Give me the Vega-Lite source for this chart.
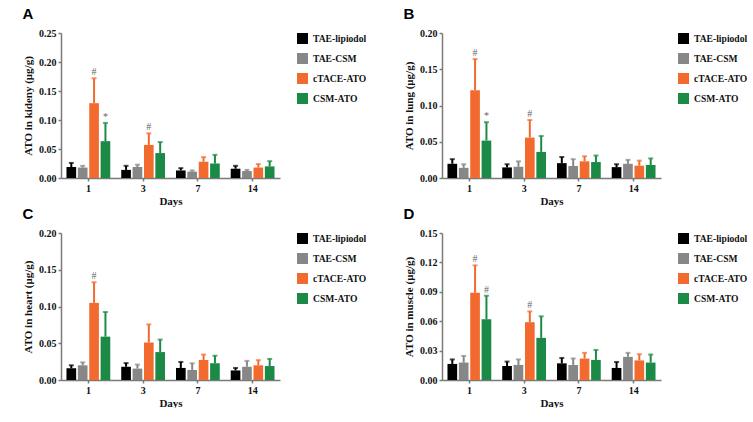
{
  "$schema": "https://vega.github.io/schema/vega-lite/v6.json",
  "background": "white",
  "padding": {"left": 22, "top": 7, "right": 0, "bottom": 0},
  "datasets": {
    "d": [
      {"panel":"A","day":"1","group":"TAE-lipiodol","mean":0.019,"upper":0.026,"sig":""},
      {"panel":"A","day":"1","group":"TAE-CSM","mean":0.018,"upper":0.021,"sig":""},
      {"panel":"A","day":"1","group":"cTACE-ATO","mean":0.129,"upper":0.172,"sig":"#"},
      {"panel":"A","day":"1","group":"CSM-ATO","mean":0.0635,"upper":0.095,"sig":"*"},
      {"panel":"A","day":"3","group":"TAE-lipiodol","mean":0.014,"upper":0.021,"sig":""},
      {"panel":"A","day":"3","group":"TAE-CSM","mean":0.019,"upper":0.023,"sig":""},
      {"panel":"A","day":"3","group":"cTACE-ATO","mean":0.057,"upper":0.077,"sig":"#"},
      {"panel":"A","day":"3","group":"CSM-ATO","mean":0.043,"upper":0.062,"sig":""},
      {"panel":"A","day":"7","group":"TAE-lipiodol","mean":0.013,"upper":0.017,"sig":""},
      {"panel":"A","day":"7","group":"TAE-CSM","mean":0.011,"upper":0.013,"sig":""},
      {"panel":"A","day":"7","group":"cTACE-ATO","mean":0.028,"upper":0.036,"sig":""},
      {"panel":"A","day":"7","group":"CSM-ATO","mean":0.025,"upper":0.040,"sig":""},
      {"panel":"A","day":"14","group":"TAE-lipiodol","mean":0.016,"upper":0.021,"sig":""},
      {"panel":"A","day":"14","group":"TAE-CSM","mean":0.012,"upper":0.014,"sig":""},
      {"panel":"A","day":"14","group":"cTACE-ATO","mean":0.018,"upper":0.024,"sig":""},
      {"panel":"A","day":"14","group":"CSM-ATO","mean":0.020,"upper":0.029,"sig":""},

      {"panel":"B","day":"1","group":"TAE-lipiodol","mean":0.0196,"upper":0.026,"sig":""},
      {"panel":"B","day":"1","group":"TAE-CSM","mean":0.014,"upper":0.019,"sig":""},
      {"panel":"B","day":"1","group":"cTACE-ATO","mean":0.121,"upper":0.164,"sig":"#"},
      {"panel":"B","day":"1","group":"CSM-ATO","mean":0.0516,"upper":0.077,"sig":"*"},
      {"panel":"B","day":"3","group":"TAE-lipiodol","mean":0.0146,"upper":0.019,"sig":""},
      {"panel":"B","day":"3","group":"TAE-CSM","mean":0.0155,"upper":0.023,"sig":""},
      {"panel":"B","day":"3","group":"cTACE-ATO","mean":0.0557,"upper":0.080,"sig":"#"},
      {"panel":"B","day":"3","group":"CSM-ATO","mean":0.036,"upper":0.058,"sig":""},
      {"panel":"B","day":"7","group":"TAE-lipiodol","mean":0.0205,"upper":0.029,"sig":""},
      {"panel":"B","day":"7","group":"TAE-CSM","mean":0.0164,"upper":0.026,"sig":""},
      {"panel":"B","day":"7","group":"cTACE-ATO","mean":0.023,"upper":0.030,"sig":""},
      {"panel":"B","day":"7","group":"CSM-ATO","mean":0.022,"upper":0.031,"sig":""},
      {"panel":"B","day":"14","group":"TAE-lipiodol","mean":0.015,"upper":0.019,"sig":""},
      {"panel":"B","day":"14","group":"TAE-CSM","mean":0.0196,"upper":0.025,"sig":""},
      {"panel":"B","day":"14","group":"cTACE-ATO","mean":0.017,"upper":0.024,"sig":""},
      {"panel":"B","day":"14","group":"CSM-ATO","mean":0.018,"upper":0.027,"sig":""},

      {"panel":"C","day":"1","group":"TAE-lipiodol","mean":0.016,"upper":0.020,"sig":""},
      {"panel":"C","day":"1","group":"TAE-CSM","mean":0.020,"upper":0.024,"sig":""},
      {"panel":"C","day":"1","group":"cTACE-ATO","mean":0.105,"upper":0.133,"sig":"#"},
      {"panel":"C","day":"1","group":"CSM-ATO","mean":0.059,"upper":0.0925,"sig":""},
      {"panel":"C","day":"3","group":"TAE-lipiodol","mean":0.018,"upper":0.023,"sig":""},
      {"panel":"C","day":"3","group":"TAE-CSM","mean":0.0155,"upper":0.021,"sig":""},
      {"panel":"C","day":"3","group":"cTACE-ATO","mean":0.051,"upper":0.0756,"sig":""},
      {"panel":"C","day":"3","group":"CSM-ATO","mean":0.038,"upper":0.055,"sig":""},
      {"panel":"C","day":"7","group":"TAE-lipiodol","mean":0.0164,"upper":0.0246,"sig":""},
      {"panel":"C","day":"7","group":"TAE-CSM","mean":0.0137,"upper":0.0228,"sig":""},
      {"panel":"C","day":"7","group":"cTACE-ATO","mean":0.0273,"upper":0.0346,"sig":""},
      {"panel":"C","day":"7","group":"CSM-ATO","mean":0.0228,"upper":0.033,"sig":""},
      {"panel":"C","day":"14","group":"TAE-lipiodol","mean":0.013,"upper":0.0164,"sig":""},
      {"panel":"C","day":"14","group":"TAE-CSM","mean":0.018,"upper":0.026,"sig":""},
      {"panel":"C","day":"14","group":"cTACE-ATO","mean":0.020,"upper":0.027,"sig":""},
      {"panel":"C","day":"14","group":"CSM-ATO","mean":0.019,"upper":0.0287,"sig":""},

      {"panel":"D","day":"1","group":"TAE-lipiodol","mean":0.0164,"upper":0.021,"sig":""},
      {"panel":"D","day":"1","group":"TAE-CSM","mean":0.0178,"upper":0.0246,"sig":""},
      {"panel":"D","day":"1","group":"cTACE-ATO","mean":0.089,"upper":0.117,"sig":"#"},
      {"panel":"D","day":"1","group":"CSM-ATO","mean":0.062,"upper":0.086,"sig":"#"},
      {"panel":"D","day":"3","group":"TAE-lipiodol","mean":0.0143,"upper":0.0188,"sig":""},
      {"panel":"D","day":"3","group":"TAE-CSM","mean":0.0154,"upper":0.021,"sig":""},
      {"panel":"D","day":"3","group":"cTACE-ATO","mean":0.059,"upper":0.070,"sig":"#"},
      {"panel":"D","day":"3","group":"CSM-ATO","mean":0.043,"upper":0.065,"sig":""},
      {"panel":"D","day":"7","group":"TAE-lipiodol","mean":0.017,"upper":0.0225,"sig":""},
      {"panel":"D","day":"7","group":"TAE-CSM","mean":0.0154,"upper":0.022,"sig":""},
      {"panel":"D","day":"7","group":"cTACE-ATO","mean":0.0219,"upper":0.0277,"sig":""},
      {"panel":"D","day":"7","group":"CSM-ATO","mean":0.0205,"upper":0.0307,"sig":""},
      {"panel":"D","day":"14","group":"TAE-lipiodol","mean":0.0123,"upper":0.0184,"sig":""},
      {"panel":"D","day":"14","group":"TAE-CSM","mean":0.0236,"upper":0.0277,"sig":""},
      {"panel":"D","day":"14","group":"cTACE-ATO","mean":0.020,"upper":0.0263,"sig":""},
      {"panel":"D","day":"14","group":"CSM-ATO","mean":0.0178,"upper":0.026,"sig":""}
    ]
  },
  "data": {"name": "d"},
  "config": {
    "view": {"stroke": null},
    "axis": {
      "grid": false,
      "domainColor": "#7a7a7a",
      "domainWidth": 1.5,
      "tickColor": "#7a7a7a",
      "tickWidth": 1.5,
      "tickSize": 3,
      "labelFont": "Liberation Serif",
      "labelFontWeight": "bold",
      "labelFontSize": 10,
      "labelColor": "#111",
      "labelOverlap": false,
      "titleFont": "Liberation Serif",
      "titleFontWeight": "bold",
      "titleColor": "#111",
      "titleFontSize": 11
    },
    "axisX": {"labelAngle": 0, "labelPadding": 2, "titlePadding": 2},
    "axisY": {"labelPadding": 2, "titlePadding": 5},
    "legend": {
      "title": null,
      "symbolType": "square",
      "symbolSize": 121,
      "symbolStrokeWidth": 0,
      "symbolOpacity": 1,
      "labelFont": "Liberation Serif",
      "labelFontWeight": "bold",
      "labelFontSize": 9.6,
      "labelColor": "#111",
      "rowPadding": 9,
      "offset": 17,
      "padding": 0,
      "labelOffset": 5
    },
    "title": {"font": "Liberation Sans", "fontSize": 15, "fontWeight": "bold", "anchor": "start", "frame": "bounds", "offset": 6, "color": "#000"}
  },
  "resolve": {"scale": {"color": "independent"}, "legend": {"color": "independent"}},
  "spacing": 1,
  "vconcat": [
    {
      "resolve": {"scale": {"color": "independent"}, "legend": {"color": "independent"}},
      "spacing": 36,
      "hconcat": [
        {
          "title": "A",
          "width": 219, "height": 145,
          "transform": [{"filter": "datum.panel === 'A'"}],
          "encoding": {
            "x": {"field": "day", "type": "ordinal", "sort": ["1","3","7","14"], "scale": {"paddingInner": 0.2, "paddingOuter": 0.1}, "title": "Days"},
            "xOffset": {"field": "group", "type": "nominal", "scale": {"domain": ["TAE-lipiodol","TAE-CSM","cTACE-ATO","CSM-ATO"], "paddingInner": 0.15}},
            "color": {"field": "group", "type": "nominal", "scale": {"domain": ["TAE-lipiodol","TAE-CSM","cTACE-ATO","CSM-ATO"], "range": ["#000000","#878787","#f26a2e","#1b8a47"]}}
          },
          "layer": [
            {"mark": {"type": "rule", "strokeWidth": 2}, "encoding": {"y": {"field": "mean", "type": "quantitative", "title": "ATO in kideny (μg/g)", "scale": {"domain": [0, 0.25], "nice": false}, "axis": {"values": [0,0.05,0.1,0.15,0.2,0.25], "format": ".2f"}}, "y2": {"field": "upper"}}},
            {"mark": {"type": "tick", "thickness": 2, "size": 5}, "encoding": {"y": {"field": "upper", "type": "quantitative", "title": "ATO in kideny (μg/g)", "axis": {"values": [0,0.05,0.1,0.15,0.2,0.25], "format": ".2f"}}}},
            {"mark": {"type": "bar"}, "encoding": {"y": {"field": "mean", "type": "quantitative", "title": "ATO in kideny (μg/g)", "axis": {"values": [0,0.05,0.1,0.15,0.2,0.25], "format": ".2f"}}}},
            {"mark": {"type": "text", "dy": -6, "font": "Liberation Serif", "fontSize": 10}, "encoding": {"y": {"field": "upper", "type": "quantitative", "title": "ATO in kideny (μg/g)", "axis": {"values": [0,0.05,0.1,0.15,0.2,0.25], "format": ".2f"}}, "text": {"field": "sig"}, "color": {"value": "#666"}}}
          ]
        },
        {
          "title": "B",
          "width": 219, "height": 145,
          "transform": [{"filter": "datum.panel === 'B'"}],
          "encoding": {
            "x": {"field": "day", "type": "ordinal", "sort": ["1","3","7","14"], "scale": {"paddingInner": 0.2, "paddingOuter": 0.1}, "title": "Days"},
            "xOffset": {"field": "group", "type": "nominal", "scale": {"domain": ["TAE-lipiodol","TAE-CSM","cTACE-ATO","CSM-ATO"], "paddingInner": 0.15}},
            "color": {"field": "group", "type": "nominal", "scale": {"domain": ["TAE-lipiodol","TAE-CSM","cTACE-ATO","CSM-ATO"], "range": ["#000000","#878787","#f26a2e","#1b8a47"]}}
          },
          "layer": [
            {"mark": {"type": "rule", "strokeWidth": 2}, "encoding": {"y": {"field": "mean", "type": "quantitative", "title": "ATO in lung (μg/g)", "scale": {"domain": [0, 0.2], "nice": false}, "axis": {"values": [0,0.05,0.1,0.15,0.2], "format": ".2f"}}, "y2": {"field": "upper"}}},
            {"mark": {"type": "tick", "thickness": 2, "size": 5}, "encoding": {"y": {"field": "upper", "type": "quantitative", "title": "ATO in lung (μg/g)", "axis": {"values": [0,0.05,0.1,0.15,0.2], "format": ".2f"}}}},
            {"mark": {"type": "bar"}, "encoding": {"y": {"field": "mean", "type": "quantitative", "title": "ATO in lung (μg/g)", "axis": {"values": [0,0.05,0.1,0.15,0.2], "format": ".2f"}}}},
            {"mark": {"type": "text", "dy": -6, "font": "Liberation Serif", "fontSize": 10}, "encoding": {"y": {"field": "upper", "type": "quantitative", "title": "ATO in lung (μg/g)", "axis": {"values": [0,0.05,0.1,0.15,0.2], "format": ".2f"}}, "text": {"field": "sig"}, "color": {"value": "#666"}}}
          ]
        }
      ]
    },
    {
      "resolve": {"scale": {"color": "independent"}, "legend": {"color": "independent"}},
      "spacing": 36,
      "hconcat": [
        {
          "title": "C",
          "width": 219, "height": 147,
          "transform": [{"filter": "datum.panel === 'C'"}],
          "encoding": {
            "x": {"field": "day", "type": "ordinal", "sort": ["1","3","7","14"], "scale": {"paddingInner": 0.2, "paddingOuter": 0.1}, "title": "Days"},
            "xOffset": {"field": "group", "type": "nominal", "scale": {"domain": ["TAE-lipiodol","TAE-CSM","cTACE-ATO","CSM-ATO"], "paddingInner": 0.15}},
            "color": {"field": "group", "type": "nominal", "scale": {"domain": ["TAE-lipiodol","TAE-CSM","cTACE-ATO","CSM-ATO"], "range": ["#000000","#878787","#f26a2e","#1b8a47"]}}
          },
          "layer": [
            {"mark": {"type": "rule", "strokeWidth": 2}, "encoding": {"y": {"field": "mean", "type": "quantitative", "title": "ATO in heart (μg/g)", "scale": {"domain": [0, 0.2], "nice": false}, "axis": {"values": [0,0.05,0.1,0.15,0.2], "format": ".2f"}}, "y2": {"field": "upper"}}},
            {"mark": {"type": "tick", "thickness": 2, "size": 5}, "encoding": {"y": {"field": "upper", "type": "quantitative", "title": "ATO in heart (μg/g)", "axis": {"values": [0,0.05,0.1,0.15,0.2], "format": ".2f"}}}},
            {"mark": {"type": "bar"}, "encoding": {"y": {"field": "mean", "type": "quantitative", "title": "ATO in heart (μg/g)", "axis": {"values": [0,0.05,0.1,0.15,0.2], "format": ".2f"}}}},
            {"mark": {"type": "text", "dy": -6, "font": "Liberation Serif", "fontSize": 10}, "encoding": {"y": {"field": "upper", "type": "quantitative", "title": "ATO in heart (μg/g)", "axis": {"values": [0,0.05,0.1,0.15,0.2], "format": ".2f"}}, "text": {"field": "sig"}, "color": {"value": "#666"}}}
          ]
        },
        {
          "title": "D",
          "width": 219, "height": 147,
          "transform": [{"filter": "datum.panel === 'D'"}],
          "encoding": {
            "x": {"field": "day", "type": "ordinal", "sort": ["1","3","7","14"], "scale": {"paddingInner": 0.2, "paddingOuter": 0.1}, "title": "Days"},
            "xOffset": {"field": "group", "type": "nominal", "scale": {"domain": ["TAE-lipiodol","TAE-CSM","cTACE-ATO","CSM-ATO"], "paddingInner": 0.15}},
            "color": {"field": "group", "type": "nominal", "scale": {"domain": ["TAE-lipiodol","TAE-CSM","cTACE-ATO","CSM-ATO"], "range": ["#000000","#878787","#f26a2e","#1b8a47"]}}
          },
          "layer": [
            {"mark": {"type": "rule", "strokeWidth": 2}, "encoding": {"y": {"field": "mean", "type": "quantitative", "title": "ATO in muscle (μg/g)", "scale": {"domain": [0, 0.15], "nice": false}, "axis": {"values": [0,0.03,0.06,0.09,0.12,0.15], "format": ".2f"}}, "y2": {"field": "upper"}}},
            {"mark": {"type": "tick", "thickness": 2, "size": 5}, "encoding": {"y": {"field": "upper", "type": "quantitative", "title": "ATO in muscle (μg/g)", "axis": {"values": [0,0.03,0.06,0.09,0.12,0.15], "format": ".2f"}}}},
            {"mark": {"type": "bar"}, "encoding": {"y": {"field": "mean", "type": "quantitative", "title": "ATO in muscle (μg/g)", "axis": {"values": [0,0.03,0.06,0.09,0.12,0.15], "format": ".2f"}}}},
            {"mark": {"type": "text", "dy": -6, "font": "Liberation Serif", "fontSize": 10}, "encoding": {"y": {"field": "upper", "type": "quantitative", "title": "ATO in muscle (μg/g)", "axis": {"values": [0,0.03,0.06,0.09,0.12,0.15], "format": ".2f"}}, "text": {"field": "sig"}, "color": {"value": "#666"}}}
          ]
        }
      ]
    }
  ]
}
